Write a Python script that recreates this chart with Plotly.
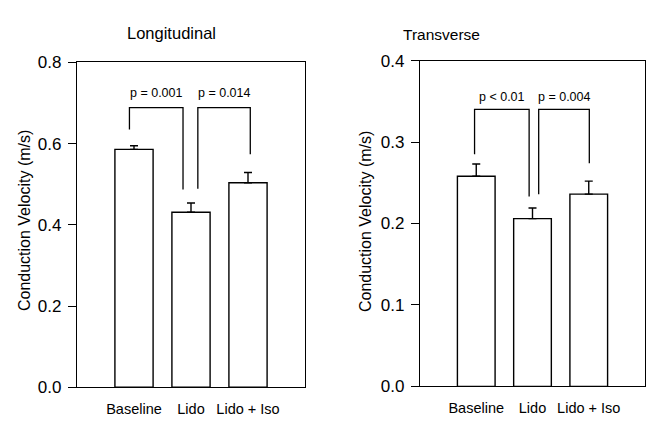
import plotly.graph_objects as go

categories = ["Baseline", "Lido", "Lido + Iso"]

long_mean = [0.586, 0.431, 0.504]
long_err = [0.009, 0.023, 0.025]
trans_mean = [0.258, 0.206, 0.236]
trans_err = [0.015, 0.013, 0.016]

# bracket legs: x positions (category units) and bottom values; shared top value
long_brackets = [
    {"x": [-0.08, 0.86], "bottom": [0.635, 0.487], "top": 0.689, "label": "p = 0.001"},
    {"x": [1.12, 2.04], "bottom": [0.489, 0.574], "top": 0.689, "label": "p = 0.014"},
]
trans_brackets = [
    {"x": [-0.03, 0.94], "bottom": [0.285, 0.233], "top": 0.340, "label": "p < 0.01"},
    {"x": [1.11, 2.01], "bottom": [0.236, 0.274], "top": 0.340, "label": "p = 0.004"},
]

FONT = "Liberation Sans, Arial, sans-serif"

W, H = 648, 425


def px(X):
    return X / W


def py(Y):
    return 1 - Y / H


fig = go.Figure()


def add_panel(means, errs, brackets, xa, ya, label_off):
    fig.add_trace(go.Bar(
        x=list(range(len(categories))), y=means, width=0.67,
        marker=dict(color="white", line=dict(color="black", width=1.4)),
        error_y=dict(type="data", symmetric=False, array=errs,
                     arrayminus=[0] * len(errs), color="black",
                     thickness=1.4, width=4),
        xaxis=xa, yaxis=ya, showlegend=False, hoverinfo="skip"))
    for b in brackets:
        xs = [b["x"][0], b["x"][0], b["x"][1], b["x"][1]]
        ys = [b["bottom"][0], b["top"], b["top"], b["bottom"][1]]
        fig.add_trace(go.Scatter(x=xs, y=ys, mode="lines",
                                 line=dict(color="black", width=1.3),
                                 xaxis=xa, yaxis=ya, showlegend=False,
                                 hoverinfo="skip"))
        fig.add_annotation(x=(b["x"][0] + b["x"][1]) / 2, y=b["top"] + label_off,
                           text=b["label"], showarrow=False,
                           xref=xa, yref=ya, xanchor="center", yanchor="middle",
                           font=dict(family=FONT, size=12.5, color="black"))


add_panel(long_mean, long_err, long_brackets, "x", "y", 0.035)
add_panel(trans_mean, trans_err, trans_brackets, "x2", "y2", 0.015)

xcommon = dict(range=[-1, 3], tickvals=[0, 1, 2], ticktext=categories,
               showline=True, linecolor="black", linewidth=1.3, mirror=True,
               ticks="", showgrid=False, zeroline=False,
               tickfont=dict(family=FONT, size=14.5, color="black"),
               ticklabelstandoff=8)
ycommon = dict(showline=True, linecolor="black", linewidth=1.3, mirror=True,
               ticks="outside", ticklen=8, tickwidth=1.2, tickcolor="black",
               showgrid=False, zeroline=False,
               tickfont=dict(family=FONT, size=17, color="black"),
               ticklabelstandoff=3)

fig.update_layout(
    width=W, height=H,
    margin=dict(l=0, r=0, t=0, b=0),
    paper_bgcolor="white", plot_bgcolor="white",
    xaxis=dict(domain=[px(77), px(305)], anchor="y", **xcommon),
    yaxis=dict(domain=[py(396), py(56)], anchor="x",
               range=[0, 0.8], tickvals=[0, 0.2, 0.4, 0.6, 0.8],
               ticktext=["0.0", "0.2", "0.4", "0.6", "0.8"], **ycommon),
    xaxis2=dict(domain=[px(420), px(645)], anchor="y2", **xcommon),
    yaxis2=dict(domain=[py(395), py(54)], anchor="x2",
                range=[0, 0.4], tickvals=[0, 0.1, 0.2, 0.3, 0.4],
                ticktext=["0.0", "0.1", "0.2", "0.3", "0.4"], **ycommon),
)

titles = [("Longitudinal", 171, 25, 16.5), ("Transverse", 441, 27, 15.5)]
for t, X, Y, s in titles:
    fig.add_annotation(x=px(X), y=py(Y), xref="paper", yref="paper",
                       text=t, showarrow=False, xanchor="center", yanchor="middle",
                       font=dict(family=FONT, size=s, color="black"))

for X in (24, 365):
    fig.add_annotation(x=px(X), y=py(222), xref="paper", yref="paper",
                       text="Conduction Velocity (m/s)", textangle=-90,
                       showarrow=False, xanchor="center", yanchor="middle",
                       font=dict(family=FONT, size=16, color="black"))

fig.write_html(
    "out.html",
    config={"displayModeBar": False},
    post_script="document.body.style.margin='0';document.body.style.overflow='hidden';",
)
